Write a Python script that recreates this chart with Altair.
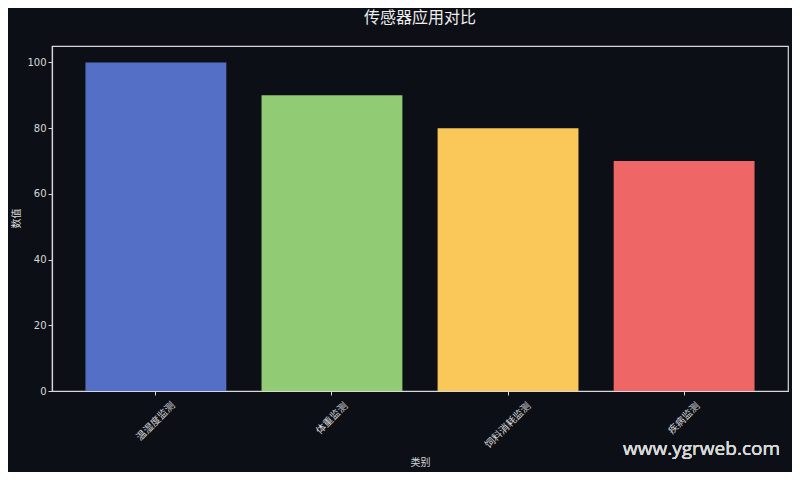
import altair as alt
import pandas as pd

categories = ["温湿度监测", "体重监测", "饲料消耗监测", "疾病监测"]
values = [100, 90, 80, 70]
colors = ["#5470c6", "#91cc75", "#fac858", "#ee6666"]
y_ticks = [0, 20, 40, 60, 80, 100]

df = pd.DataFrame({"类别": categories, "数值": values})

BG = "#0c0f16"
FG = "#d8d8d8"
FONT = "DejaVu Sans, Noto Sans CJK SC"

label_pad = {
    "condition": [
        {"test": "length(datum.value) <= 4", "value": 23},
        {"test": "length(datum.value) >= 6", "value": 30},
    ],
    "value": 26,
}

bars = alt.Chart(df).mark_bar().encode(
    x=alt.X("类别:N", sort=categories,
            scale=alt.Scale(paddingInner=0.2, paddingOuter=0.19),
            axis=alt.Axis(title="类别", labelAngle=-45, labelAlign="center",
                          labelBaseline="middle", labelPadding=label_pad,
                          titleX=368, titleY=71, titleAlign="center",
                          titleBaseline="middle")),
    y=alt.Y("数值:Q", scale=alt.Scale(domain=[0, 105], nice=False),
            axis=alt.Axis(title="数值", values=y_ticks,
                          titleX=-36, titleY=172, titleAngle=-90,
                          titleAlign="center", titleBaseline="middle")),
    color=alt.Color("类别:N", scale=alt.Scale(domain=categories, range=colors), legend=None),
)

watermark = alt.Chart(df).mark_text(
    text="www.ygrweb.com", fontSize=19, color="#d8d8d8", align="right", baseline="middle",
    font="Open Sans"
).encode(x=alt.value(780 - 52), y=alt.value(449 - 46))

chart = alt.layer(bars, watermark).properties(
    width=736, height=345,
    background=BG,
    padding={"left": 44, "top": 38, "right": 4, "bottom": 81},
    autosize=alt.AutoSizeParams(type="none"),
    title=alt.TitleParams("传感器应用对比", fontSize=16, color="#eeeeee", font=FONT,
                          fontWeight="normal", anchor="middle", offset=20),
).configure_view(stroke=FG, strokeWidth=1.2).configure_axis(
    domainColor=FG, tickColor=FG, labelColor=FG, titleColor=FG,
    labelFont=FONT, titleFont=FONT, labelFontSize=10, titleFontSize=10,
    titleFontWeight="normal", grid=False, tickSize=4, domainWidth=1.2,
)

chart.save("out.html", embed_options={"renderer": "svg", "actions": False})
